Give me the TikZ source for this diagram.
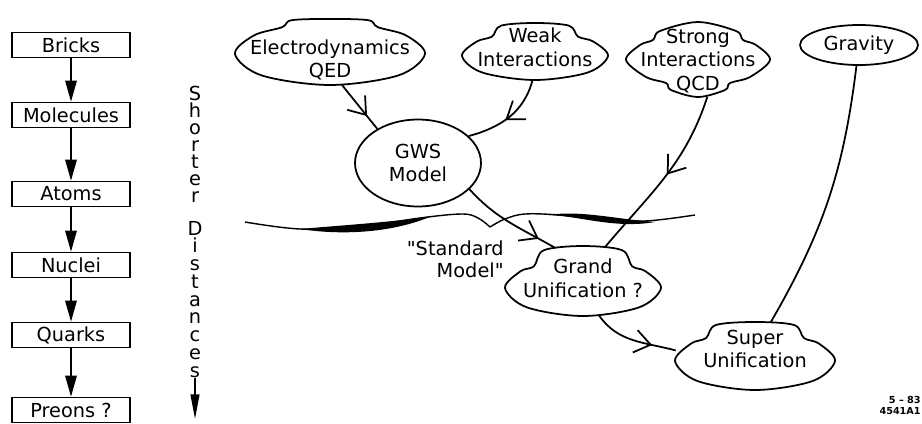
\documentclass[tikz,border=0pt]{standalone}
\usepackage{fontspec}
\setmainfont{DejaVu Sans}[Ligatures=TeXOff]
\usetikzlibrary{arrows.meta,decorations.markings,shapes.geometric}

\tikzset{
  rung/.style={draw, line width=0.9pt, minimum width=2.36cm, minimum height=0.5cm,
    inner sep=0pt, font=\fontsize{11}{13}\selectfont},
  rungarrow/.style={line width=1pt, -{Triangle[length=12pt,width=6.5pt]}},
  wire/.style={line width=1pt},
  blobtext/.style={inner sep=0pt, align=center, font=\fontsize{11}{13.5}\selectfont},
  vletter/.style={anchor=base, inner sep=0pt, font=\fontsize{11}{11}\selectfont},
  midarrow/.style={postaction={decorate}, decoration={markings,
    mark=at position #1 with {\arrow{Straight Barb[length=9pt,width=13pt,line width=1pt]}}}},
}

% cloud: name, x, y, x radius, y radius, bump half width, bump height, text shift, text
\newcommand\blob[9]{%
  \begin{scope}[shift={(#2,#3)}]
    \draw[wire] plot[smooth cycle, tension=.55] coordinates {
      (#4,0) ({.72*#4},{.69*#5}) (0,#5) ({-.72*#4},{.69*#5}) (-#4,0)
      ({-.8*#4},{-.6*#5}) ({-#6-3},{-#5*sqrt(1-((#6+3)/#4)^2)})
      ({-.85*#6},{-#5-.7*#7}) (0,{-#5-#7}) ({.85*#6},{-#5-.7*#7})
      ({#6+3},{-#5*sqrt(1-((#6+3)/#4)^2)}) ({.8*#4},{-.6*#5})};
  \end{scope}
  \node[ellipse, inner sep=0pt, minimum width={#4*0.04cm}, minimum height={(2*#5+#7)*0.02cm}]
    (#1) at (#2,{#3-#7/2}) {};
  \node[blobtext] (#1text) at (#2,{#3+#8}) {#9};
}

\begin{document}
\begin{tikzpicture}[x=0.02cm, y=-0.02cm]
  \useasboundingbox (0,0) rectangle (922,423);

  % ladder of scales
  \node[rung] (bricks) at (71,45) {Bricks};
  \node[rung] (molecules) at (71,115) {Molecules};
  \node[rung] (atoms) at (71,194) {Atoms};
  \node[rung] (nuclei) at (71,265) {Nuclei};
  \node[rung] (quarks) at (71,335) {Quarks};
  \node[rung] (preons) at (71,410) {Preons ?};
  \foreach \a/\b in {bricks/molecules, molecules/atoms, atoms/nuclei,
                     nuclei/quarks, quarks/preons}
    \draw[rungarrow] (\a) -- (\b);

  % vertical label
  \foreach \c [count=\i from 0] in {S,h,o,r,t,e,r}
    \node[vletter] (sh\i) at (195,{100+17*\i}) {\c};
  \foreach \c [count=\i from 0] in {D,i,s,t,a,n,c,e,s}
    \node[vletter] (di\i) at (195,{235+17.75*\i}) {\c};
  \coordinate (shorter) at (195,419);
  \draw[line width=1pt, -{Triangle[length=14pt,width=5pt]}] (di8.south) -- (shorter);

  % interactions
  \blob{qed}{330}{54}{95}{31}{45}{4}{6}{Electrodynamics\\QED}
  \blob{weak}{535}{56}{73}{24}{40}{9}{-9}{Weak\\Interactions}
  \blob{grand}{583}{288}{78}{28}{46}{14}{-10}{Grand\\Unification ?}
  \blob{super}{755}{361}{80}{29}{46}{10}{-12}{Super\\Unification}

  \draw[wire] plot[smooth cycle, tension=.55] coordinates {
    (770,60) (750,77) (730,83) (725,90) (698,97) (671,90) (666,83)
    (646,77) (626,60) (640,45) (653,40) (660,31) (698,22) (736,31) (743,40) (756,45)};
  \node[ellipse, inner sep=0pt, minimum width=2.88cm, minimum height=1.48cm] (strong)
    at (698,60) {};
  \node[blobtext] (strongtext) at (698,61) {Strong\\Interactions\\QCD};

  \node[draw, wire, ellipse, minimum width=2.36cm, minimum height=0.8cm, inner sep=0pt,
    font=\fontsize{11}{14}\selectfont] (gravity) at (859,45) {Gravity};
  \node[draw, wire, ellipse, minimum width=2.52cm, minimum height=1.74cm, inner sep=0pt,
    align=center, font=\fontsize{11}{13}\selectfont] (gws) at (418,163) {GWS\\Model};

  % the standard model line
  \draw[line width=0.8pt] plot[smooth, tension=.6] coordinates {(245,222) (300,229)
    (360,227) (420,218) (462,214) (478,218) (490,227)};
  \draw[line width=0.8pt] plot[smooth, tension=.6] coordinates {(490,227) (505,219)
    (525,214) (560,215) (600,219) (645,221) (695,215)};
  \fill (300,229) .. controls (345,236) and (395,232) .. (432,216)
    .. controls (395,222) and (345,225) .. (300,229);
  \fill (548,215) .. controls (580,216) and (615,229) .. (655,222)
    .. controls (615,219) and (580,210) .. (548,215);
  \node[anchor=east, align=right, inner sep=0pt, font=\fontsize{11}{12.5}\selectfont]
    (standard) at (504,259) {"Standard\\Model"};

  % connections
  \draw[wire, midarrow=.71] (qed.-70) -- (gws.140);
  \draw[wire, midarrow=.55] (weak.-95) to[out=-105, in=15] (gws.28);
  \draw[wire, midarrow=.82] (gws.-27) to[out=-48, in=150] (grand.130);
  \draw[wire, midarrow=.48] (strong.-76) to[out=-108, in=50] (grand.57);
  \draw[wire, midarrow=.72] (grand.-65) to[out=-55, in=165] (super.176);
  \draw[wire] (gravity.-97) to[out=-97, in=60] (super.65);

  \node[anchor=north east, align=right, inner sep=0pt,
    font=\fontsize{5.5}{6.5}\selectfont\bfseries] (stamp) at (921,396) {5 – 83\\4541A1};
\end{tikzpicture}
\end{document}
